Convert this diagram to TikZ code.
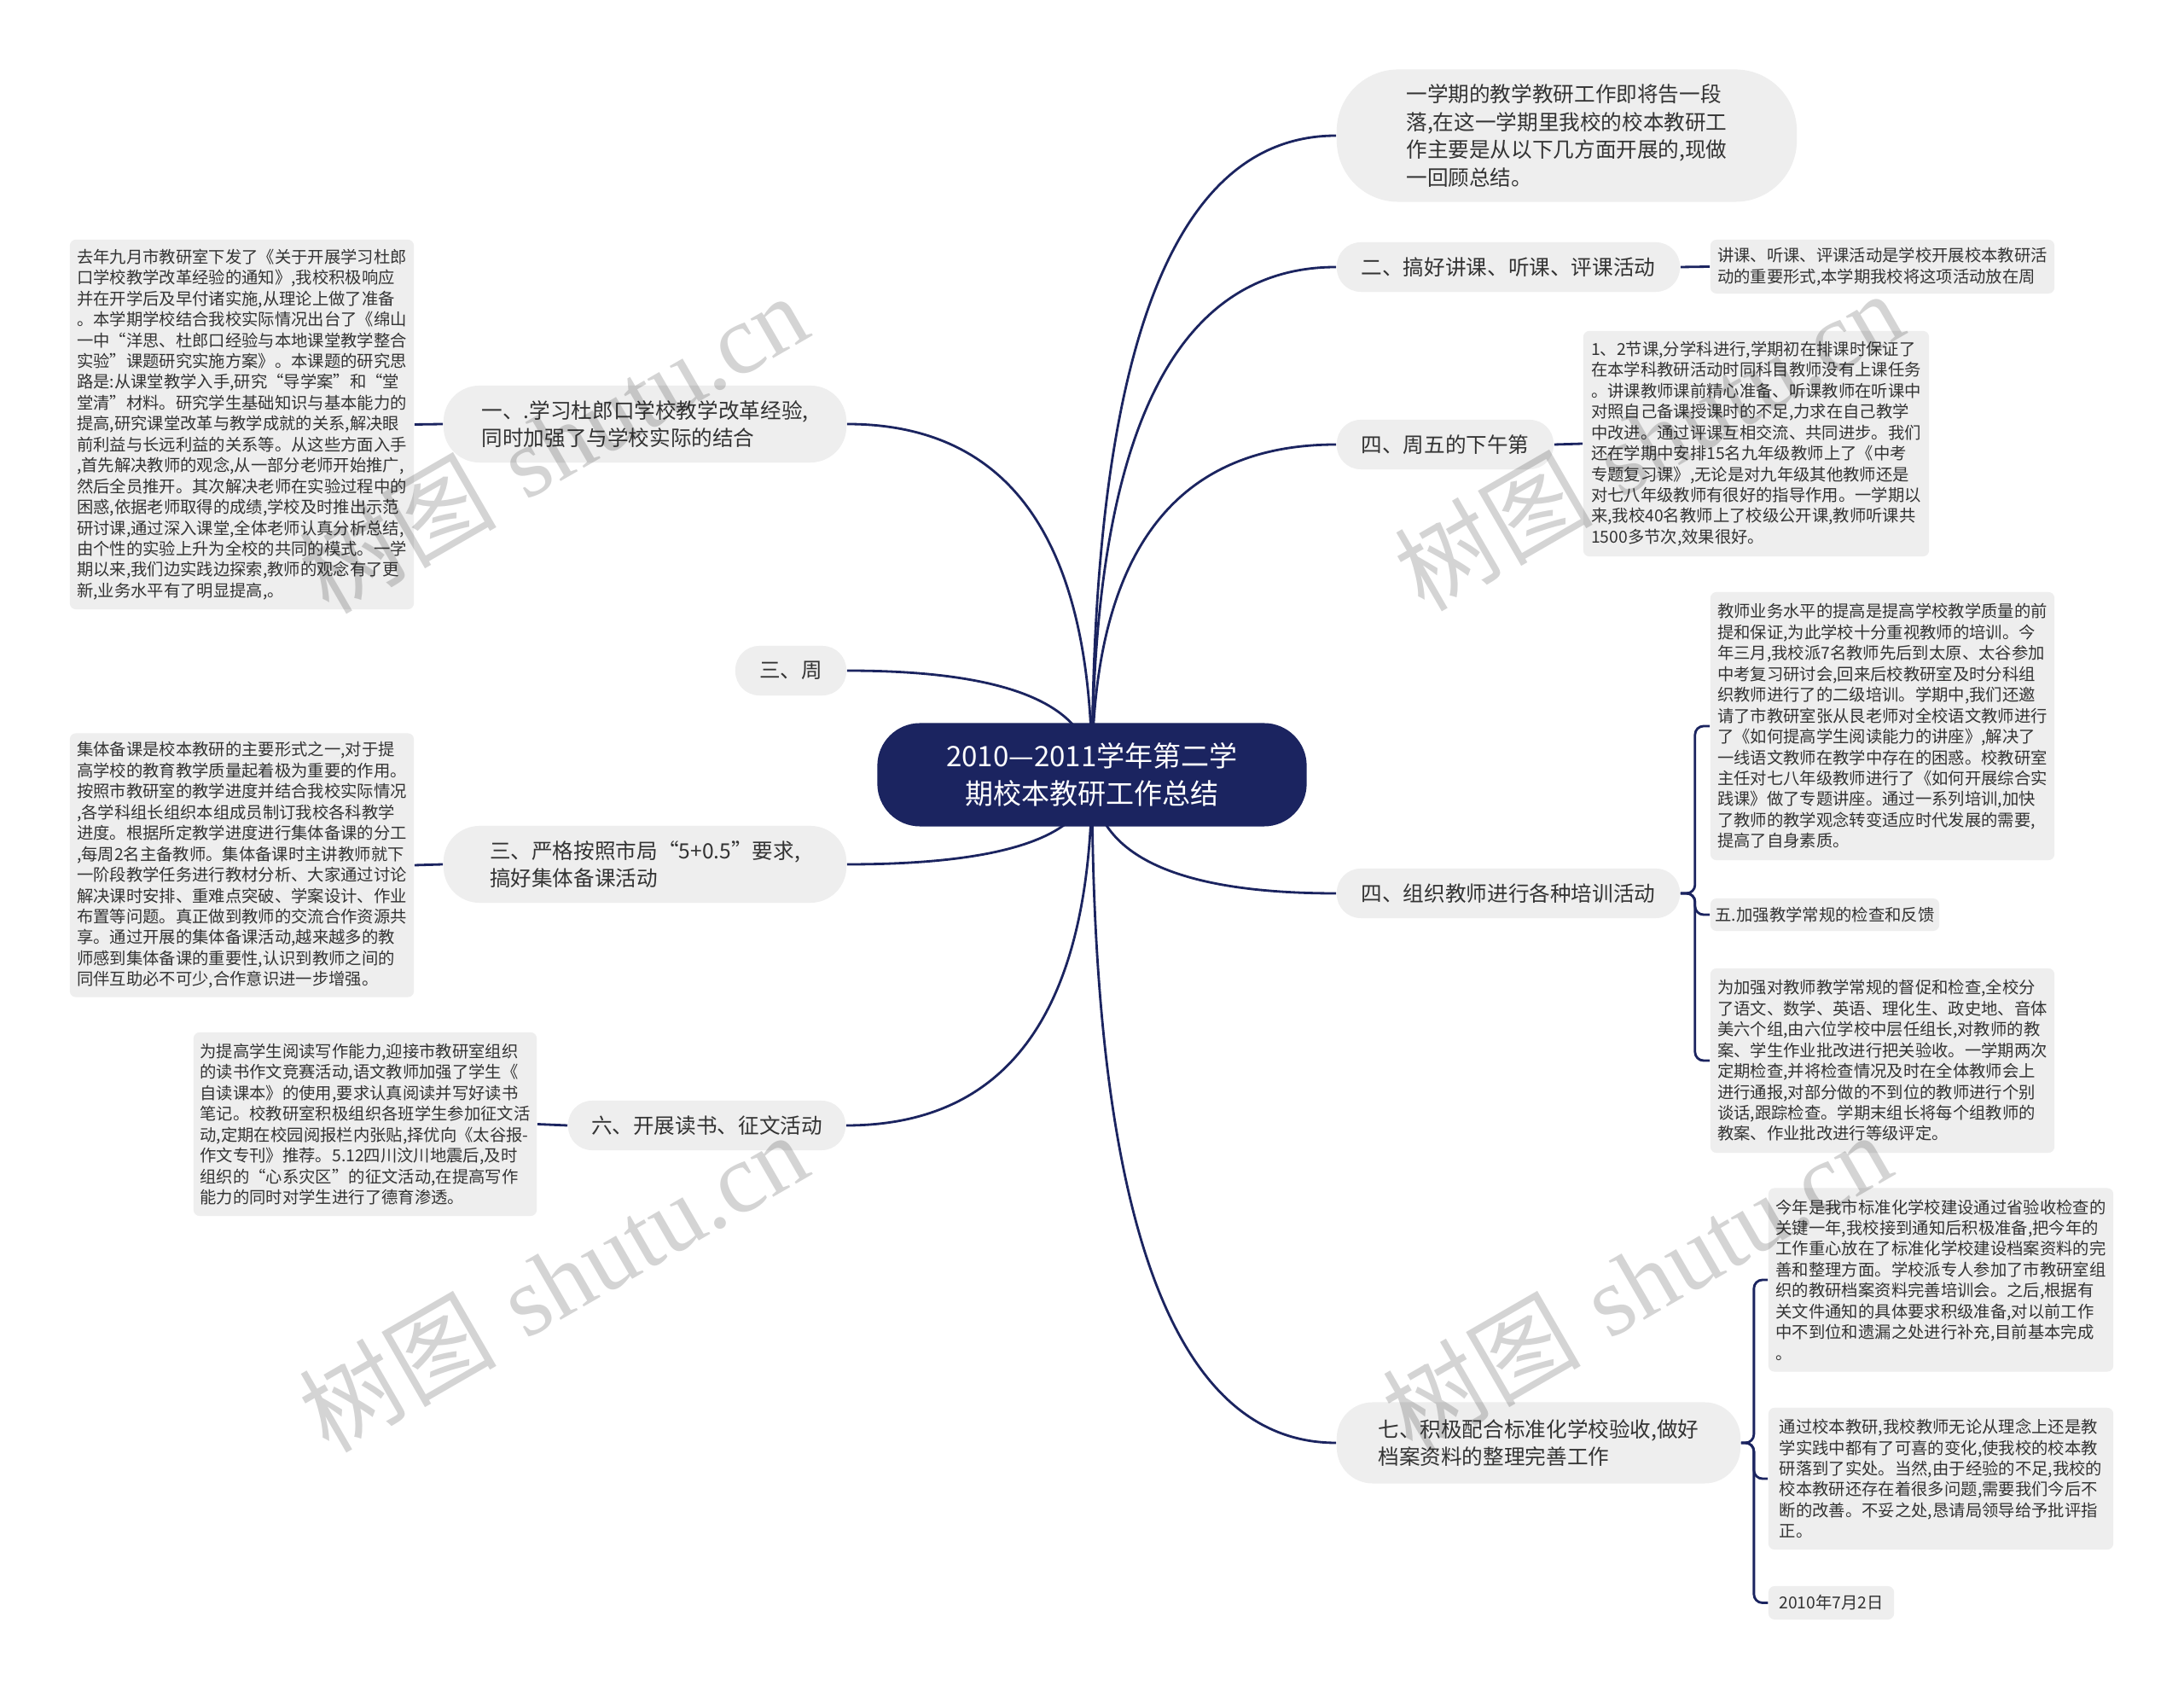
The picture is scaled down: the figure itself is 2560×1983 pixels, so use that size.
\documentclass[tikz,border=0pt]{standalone}
\usepackage{fontspec}
\newfontfamily\cjkfont{Noto Sans CJK SC}
\newfontfamily\markfont{Liberation Serif}
\usetikzlibrary{calc,backgrounds}
\definecolor{mapnavy}{HTML}{1B2460}
\definecolor{boxgray}{HTML}{EEEEEE}
\definecolor{inkgray}{HTML}{333333}

\begin{document}
\begin{tikzpicture}[
  x=0.01cm, y=-0.01cm,
  root/.style={fill=mapnavy, text=white, rounded corners=0.5cm, minimum width=5.03cm, minimum height=1.21cm, align=center, inner sep=0pt, font=\cjkfont\fontsize{9.4}{12.4}\selectfont},
  topic/.style={fill=boxgray, text=inkgray, rounded corners=0.28cm, minimum height=0.58cm, align=left, inner sep=0pt, font=\cjkfont\fontsize{7}{9.3}\selectfont},
  bigtopic/.style={topic, rounded corners=0.42cm, minimum height=0.9cm},
  leaf/.style={fill=boxgray, text=inkgray, rounded corners=0.07cm, align=left, inner sep=0pt, font=\cjkfont\fontsize{5.5}{6.95}\selectfont},
  link/.style={draw=mapnavy, line width=0.8pt},
  curve/.style={to path={.. controls ($(\tikztostart)!0.667!(\tikztostart |- \tikztotarget)$) and ($(\tikztotarget)!0.667!(\tikztostart |- \tikztotarget)$) .. (\tikztotarget)}},
  bracket/.style={link, rounded corners=0.1cm},
  watermark/.style={text=black, text opacity=0.17, rotate=30, inner sep=0pt, font=\fontsize{33}{33}\selectfont}
]
\useasboundingbox (0,0) rectangle (2560,1983);

% centre
\node[root] (root) at (1280,908) {2010—2011学年第二学\\期校本教研工作总结};

% right side
\node[topic, rounded corners=0.72cm, minimum width=5.39cm, minimum height=1.55cm] (intro) at (1836.5,159) {一学期的教学教研工作即将告一段\\落,在这一学期里我校的校本教研工\\作主要是从以下几方面开展的,现做\\一回顾总结。};
\node[topic, minimum width=4.02cm] (jk) at (1768,313) {二、搞好讲课、听课、评课活动};
\node[leaf, minimum width=4.03cm, minimum height=0.63cm] (jk-a) at (2206.5,312.5) {讲课、听课、评课活动是学校开展校本教研活\\动的重要形式,本学期我校将这项活动放在周};
\node[topic, minimum width=2.54cm] (zw) at (1694,521) {四、周五的下午第};
\node[leaf, minimum width=4.05cm, minimum height=2.64cm] (zw-a) at (2058.5,520) {1、2节课,分学科进行,学期初在排课时保证了\\在本学科教研活动时同科目教师没有上课任务\\。讲课教师课前精心准备、听课教师在听课中\\对照自己备课授课时的不足,力求在自己教学\\中改进。通过评课互相交流、共同进步。我们\\还在学期中安排15名九年级教师上了《中考\\专题复习课》,无论是对九年级其他教师还是\\对七八年级教师有很好的指导作用。一学期以\\来,我校40名教师上了校级公开课,教师听课共\\1500多节次,效果很好。};
\node[topic, minimum width=4.02cm] (px) at (1768,1047) {四、组织教师进行各种培训活动};
\node[leaf, minimum width=4.03cm, minimum height=3.14cm] (px-a) at (2206.5,851) {教师业务水平的提高是提高学校教学质量的前\\提和保证,为此学校十分重视教师的培训。今\\年三月,我校派7名教师先后到太原、太谷参加\\中考复习研讨会,回来后校教研室及时分科组\\织教师进行了的二级培训。学期中,我们还邀\\请了市教研室张从艮老师对全校语文教师进行\\了《如何提高学生阅读能力的讲座》,解决了\\一线语文教师在教学中存在的困惑。校教研室\\主任对七八年级教师进行了《如何开展综合实\\践课》做了专题讲座。通过一系列培训,加快\\了教师的教学观念转变适应时代发展的需要,\\提高了自身素质。};
\node[leaf, minimum width=2.68cm, minimum height=0.38cm] (px-b) at (2139,1072) {五.加强教学常规的检查和反馈};
\node[leaf, minimum width=4.03cm, minimum height=2.16cm] (px-c) at (2206.5,1243) {为加强对教师教学常规的督促和检查,全校分\\了语文、数学、英语、理化生、政史地、音体\\美六个组,由六位学校中层任组长,对教师的教\\案、学生作业批改进行把关验收。一学期两次\\定期检查,并将检查情况及时在全体教师会上\\进行通报,对部分做的不到位的教师进行个别\\谈话,跟踪检查。学期末组长将每个组教师的\\教案、作业批改进行等级评定。};
\node[bigtopic, minimum width=4.73cm, minimum height=0.95cm] (bz) at (1803.5,1691) {七、积极配合标准化学校验收,做好\\档案资料的整理完善工作};
\node[leaf, minimum width=4.04cm, minimum height=2.15cm] (bz-a) at (2275,1500) {今年是我市标准化学校建设通过省验收检查的\\关键一年,我校接到通知后积极准备,把今年的\\工作重心放在了标准化学校建设档案资料的完\\善和整理方面。学校派专人参加了市教研室组\\织的教研档案资料完善培训会。之后,根据有\\关文件通知的具体要求积级准备,对以前工作\\中不到位和遗漏之处进行补充,目前基本完成\\。};
\node[leaf, minimum width=4.04cm, minimum height=1.66cm] (bz-b) at (2275,1733) {通过校本教研,我校教师无论从理念上还是教\\学实践中都有了可喜的变化,使我校的校本教\\研落到了实处。当然,由于经验的不足,我校的\\校本教研还存在着很多问题,需要我们今后不\\断的改善。不妥之处,恳请局领导给予批评指\\正。};
\node[leaf, minimum width=1.47cm, minimum height=0.39cm] (bz-c) at (2146.5,1878.5) {2010年7月2日};

% left side
\node[bigtopic, minimum width=4.72cm] (dlk) at (756,497) {一、.学习杜郎口学校教学改革经验,\\同时加强了与学校实际的结合};
\node[leaf, minimum width=4.03cm, minimum height=4.33cm] (dlk-a) at (283.5,497.5) {去年九月市教研室下发了《关于开展学习杜郎\\口学校教学改革经验的通知》,我校积极响应\\并在开学后及早付诸实施,从理论上做了准备\\。本学期学校结合我校实际情况出台了《绵山\\一中“洋思、杜郎口经验与本地课堂教学整合\\实验”课题研究实施方案》。本课题的研究思\\路是:从课堂教学入手,研究“导学案”和“堂\\堂清”材料。研究学生基础知识与基本能力的\\提高,研究课堂改革与教学成就的关系,解决眼\\前利益与长远利益的关系等。从这些方面入手\\,首先解决教师的观念,从一部分老师开始推广,\\然后全员推开。其次解决老师在实验过程中的\\困惑,依据老师取得的成绩,学校及时推出示范\\研讨课,通过深入课堂,全体老师认真分析总结,\\由个性的实验上升为全校的共同的模式。一学\\期以来,我们边实践边探索,教师的观念有了更\\新,业务水平有了明显提高,。};
\node[topic, minimum width=1.30cm] (sz) at (927,786) {三、周};
\node[bigtopic, minimum width=4.72cm] (jtbk) at (756,1013) {三、严格按照市局“5+0.5”要求,\\搞好集体备课活动};
\node[leaf, minimum width=4.03cm, minimum height=3.09cm] (jtbk-a) at (283.5,1014) {集体备课是校本教研的主要形式之一,对于提\\高学校的教育教学质量起着极为重要的作用。\\按照市教研室的教学进度并结合我校实际情况\\,各学科组长组织本组成员制订我校各科教学\\进度。根据所定教学进度进行集体备课的分工\\,每周2名主备教师。集体备课时主讲教师就下\\一阶段教学任务进行教材分析、大家通过讨论\\解决课时安排、重难点突破、学案设计、作业\\布置等问题。真正做到教师的交流合作资源共\\享。通过开展的集体备课活动,越来越多的教\\师感到集体备课的重要性,认识到教师之间的\\同伴互助必不可少,合作意识进一步增强。};
\node[topic, minimum width=3.25cm] (dszw) at (828.5,1319) {六、开展读书、征文活动};
\node[leaf, minimum width=4.02cm, minimum height=2.15cm] (dszw-a) at (428,1317.5) {为提高学生阅读写作能力,迎接市教研室组织\\的读书作文竞赛活动,语文教师加强了学生《\\自读课本》的使用,要求认真阅读并写好读书\\笔记。校教研室积极组织各班学生参加征文活\\动,定期在校园阅报栏内张贴,择优向《太谷报-\\作文专刊》推荐。5.12四川汶川地震后,及时\\组织的“心系灾区”的征文活动,在提高写作\\能力的同时对学生进行了德育渗透。};

% connectors
\begin{scope}[on background layer]
\fill[white] (0,0) rectangle (2560,1983);
\draw[link] (root.center) to[curve] (intro.west);
\draw[link] (root.center) to[curve] (jk.west);
\draw[link] (root.center) to[curve] (zw.west);
\draw[link] (root.center) to[curve] (px.west);
\draw[link] (root.center) to[curve] (bz.west);
\draw[link] (root.center) to[curve] (dlk.east);
\draw[link] (root.center) to[curve] (sz.east);
\draw[link] (root.center) to[curve] (jtbk.east);
\draw[link] (root.center) to[curve] (dszw.east);
\draw[link] (jk.east) -- (jk-a.west);
\draw[link] (zw.east) -- (zw-a.west);
\draw[bracket] (px.east) -- ++(17,0) |- (px-a.west);
\draw[bracket] (px.east) -- ++(17,0) |- (px-b.west);
\draw[bracket] (px.east) -- ++(17,0) |- (px-c.west);
\draw[bracket] (bz.east) -- ++(15,0) |- (bz-a.west);
\draw[bracket] (bz.east) -- ++(15,0) |- (bz-b.west);
\draw[bracket] (bz.east) -- ++(15,0) |- (bz-c.west);
\draw[link] (dlk.west) -- (dlk-a.east);
\draw[link] (jtbk.west) -- (jtbk-a.east);
\draw[link] (dszw.west) -- (dszw-a.east);
\end{scope}

% watermarks
\node[watermark] (wm1) at (648,519) {{\cjkfont 树图}\ {\markfont shutu.cn}};
\node[watermark] (wm2) at (1932,516) {{\cjkfont 树图}\ {\markfont shutu.cn}};
\node[watermark] (wm3) at (648,1502) {{\cjkfont 树图}\ {\markfont shutu.cn}};
\node[watermark] (wm4) at (1918,1502) {{\cjkfont 树图}\ {\markfont shutu.cn}};
\end{tikzpicture}
\end{document}
